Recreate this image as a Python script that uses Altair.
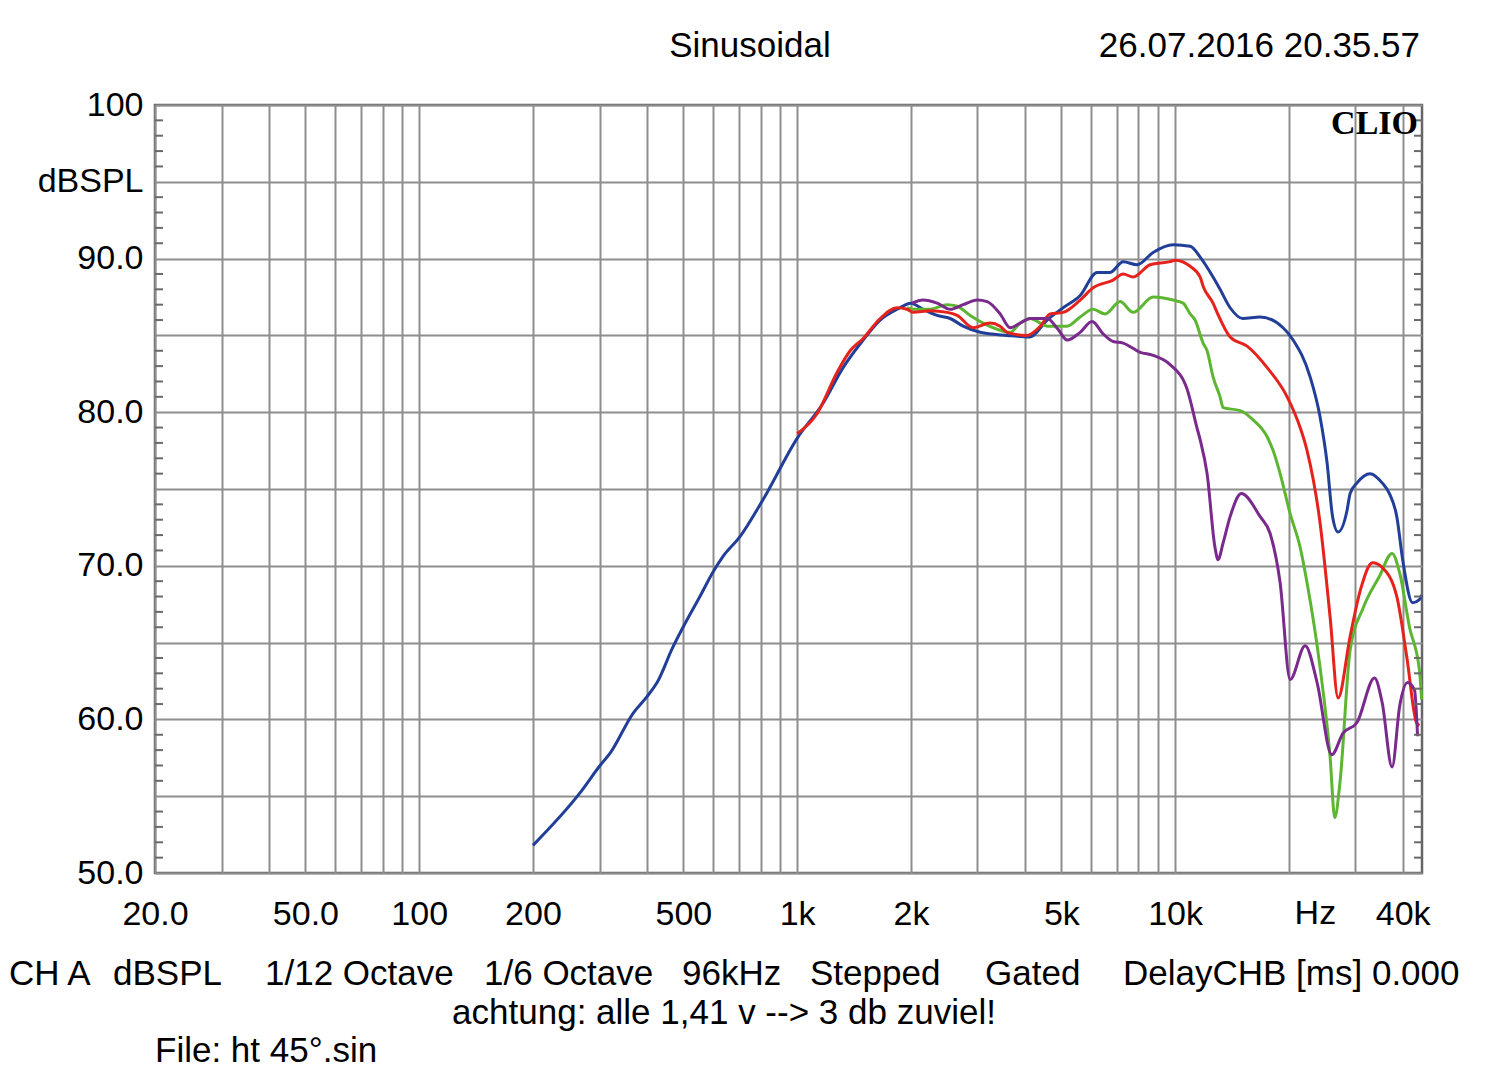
import altair as alt
import pandas as pd

# ---------------- data ----------------
blue_f = [200, 266, 301, 320, 368, 401, 426, 469, 499, 553, 599, 636, 706, 812, 1000, 1172, 1323, 1495, 1658, 1839,
          2000, 2154, 2346, 2540, 2750, 3049, 3594, 4134, 4585, 5054, 5607, 6218, 6730, 7285, 7935, 8746, 9878, 10960,
          11650, 12600, 13150, 13980, 15100, 16790, 19300, 20520, 22760, 24180, 25240, 26100, 26990, 28500, 29040,
          30290, 32800, 35300, 36900, 38600, 40000, 42500, 44300, 44900]
blue_db = [51.8, 55.2, 57.0, 57.8, 60.4, 61.5, 62.4, 64.7, 66.0, 68.0, 69.6, 70.6, 71.9, 74.3, 78.3, 80.6, 82.9, 84.7,
           86.0, 86.7, 87.1, 86.7, 86.3, 86.1, 85.6, 85.2, 85.0, 84.9, 86.0, 86.8, 87.6, 89.1, 89.1, 89.8, 89.6, 90.4,
           90.9, 90.8, 90.1, 88.8, 88.0, 86.8, 86.1, 86.2, 85.5, 84.7, 82.3, 79.7, 76.7, 73.2, 72.2, 73.6, 74.7, 75.4,
           76.0, 75.4, 74.7, 73.2, 70.4, 67.6, 67.8, 68.1]

red_f = [1000, 1129, 1276, 1381, 1495, 1658, 1839, 1954, 2027, 2248, 2494, 2651, 2922, 3241, 3444, 3594, 4050, 4400,
         4670, 5054, 5607, 6068, 6855, 7285, 7743, 8588, 9700, 10000, 10960, 11650, 11860, 12600, 12910, 13980, 15500,
         17520, 19790, 21420, 22340, 24180, 25700, 26990, 29040, 30900, 33300, 35300, 38600, 41000, 43500, 44300]
red_db = [78.6, 79.9, 82.6, 84.0, 84.8, 86.1, 86.8, 86.7, 86.5, 86.6, 86.5, 86.3, 85.5, 85.8, 85.6, 85.2, 85.0, 85.6,
          86.4, 86.5, 87.3, 88.1, 88.6, 89.0, 88.8, 89.6, 89.8, 89.9, 89.5, 88.8, 88.2, 87.1, 86.5, 84.9, 84.3, 82.9,
          81.0, 79.0, 77.5, 72.8, 66.7, 61.4, 65.4, 68.4, 70.2, 69.9, 68.0, 64.1, 59.8, 59.6]

green_f = [1954, 2027, 2248, 2494, 2651, 2870, 3105, 3382, 3660, 3890, 4134, 4585, 5179, 5607, 6068, 6529, 7153, 7743,
           8746, 9878, 10500, 10960, 11290, 11860, 12150, 12600, 13150, 13400, 14860, 16080, 17520, 18170, 18960,
           20150, 21420, 22340, 24180, 25700, 26450, 27300, 29040, 31500, 34700, 37500, 39300, 41700, 44300, 44900]
green_db = [86.8, 86.7, 86.7, 87.0, 86.9, 86.3, 85.8, 85.4, 85.2, 85.8, 86.1, 85.6, 85.6, 86.2, 86.7, 86.4, 87.2, 86.5,
            87.5, 87.3, 87.1, 86.4, 86.0, 84.5, 84.0, 82.3, 81.0, 80.3, 80.1, 79.5, 78.4, 77.5, 76.0, 73.4, 71.2, 68.9,
            63.4, 57.6, 53.6, 55.9, 64.5, 67.3, 69.3, 70.8, 69.5, 66.0, 63.2, 61.3]

purple_f = [2015, 2154, 2346, 2540, 2750, 2994, 3182, 3444, 3660, 3890, 4134, 4585, 4900, 5179, 5607, 6031, 6450, 6855,
            7285, 8081, 8746, 9700, 10760, 11420, 11650, 12150, 12750, 12990, 13400, 13980, 14970, 16790, 17840, 18960,
            20150, 22080, 23750, 25970, 27820, 30290, 33700, 35300, 37500, 39300, 41200, 43000, 43800]
purple_db = [87.1, 87.3, 87.1, 86.7, 87.0, 87.3, 87.2, 86.4, 85.5, 85.8, 86.1, 86.1, 85.4, 84.7, 85.2, 85.9, 85.1, 84.6,
             84.5, 83.9, 83.7, 83.1, 81.5, 79.0, 78.2, 76.0, 71.2, 70.4, 71.5, 73.2, 74.7, 73.2, 72.1, 68.9, 62.6, 64.8,
             62.4, 57.7, 59.1, 59.8, 62.7, 61.1, 56.9, 60.9, 62.4, 61.9, 58.9]

x_grid = [20, 30, 40, 50, 60, 70, 80, 90, 100, 200, 300, 400, 500, 600, 700, 800, 900, 1000,
          2000, 3000, 4000, 5000, 6000, 7000, 8000, 9000, 10000, 20000, 30000, 40000]
x_label_vals = [20, 50, 100, 200, 500, 1000, 2000, 5000, 10000, 40000]
x_label_txt = ["20.0", "50.0", "100", "200", "500", "1k", "2k", "5k", "10k", "40k"]
hz_pos = [23500]

y_grid = [50, 55, 60, 65, 70, 75, 80, 85, 90, 95, 100]
y_label_vals = [100, 95, 90, 80, 70, 60, 50]
y_label_txt = ["100", "dBSPL", "90.0", "80.0", "70.0", "60.0", "50.0"]
y_minor = [v for v in range(51, 100) if v % 5 != 0]

title_txt = "Sinusoidal"
date_txt = "26.07.2016 20.35.57"
brand_txt = "CLIO"
footer_items = ["CH A", "dBSPL", "1/12 Octave", "1/6 Octave", "96kHz", "Stepped", "Gated", "DelayCHB [ms] 0.000"]
note_txt = "achtung: alle 1,41 v --> 3 db zuviel!"
file_txt = "File: ht 45°.sin"

# ---------------- chart ----------------
W, H = 1267, 768
FONT = "Liberation Sans"


def label_expr(vals, txts):
    parts = [f"datum.value == {v} ? '{t}'" for v, t in zip(vals, txts)]
    return " : ".join(parts) + " : ''"


xscale = alt.Scale(type="log", domain=[20, 45000], nice=False)
yscale = alt.Scale(domain=[50, 100], nice=False, zero=False)

xaxis = alt.Axis(values=x_grid, labelExpr=label_expr(x_label_vals, x_label_txt), title=None,
                 grid=True, gridColor="#8e8e8e", gridWidth=2, ticks=False, domain=False,
                 labelFont=FONT, labelFontSize=34, labelColor="black", labelPadding=24,
                 labelOverlap=False, labelFlush=False, labelBound=False)
yaxis = alt.Axis(values=y_grid, labelExpr=label_expr(y_label_vals, y_label_txt), title=None,
                 grid=True, gridColor="#8e8e8e", gridWidth=2, ticks=False, domain=False,
                 labelFont=FONT, labelFontSize=34, labelColor="black", labelPadding=12,
                 labelOverlap=False, labelFlush=False, labelBound=False)

series = [("blue", blue_f, blue_db, "#213f98"),
          ("green", green_f, green_db, "#5db632"),
          ("red", red_f, red_db, "#e5221c"),
          ("purple", purple_f, purple_db, "#7a2a8c")]

layers = []
for name, fs, dbs, col in series:
    df = pd.DataFrame({"f": fs, "db": dbs})
    layers.append(alt.Chart(df).mark_line(color=col, strokeWidth=3, interpolate="monotone")
                  .encode(x=alt.X("f:Q", scale=xscale, axis=xaxis),
                          y=alt.Y("db:Q", scale=yscale, axis=yaxis)))

minor_df = pd.DataFrame({"db": y_minor})
for x0, x1 in [(0, 8), (W - 8, W)]:
    layers.append(alt.Chart(minor_df).mark_rule(color="#6a6a6a", strokeWidth=2)
                  .encode(y=alt.Y("db:Q", scale=yscale, axis=yaxis), x=alt.value(x0), x2=alt.value(x1)))

one = pd.DataFrame({"k": [0]})


def txt(t, x, y, align="left", size=35, font=FONT, weight="normal", baseline="alphabetic"):
    return (alt.Chart(one).mark_text(text=t, align=align, baseline=baseline, font=font, fontSize=size,
                                     fontWeight=weight, color="black")
            .encode(x=alt.value(x), y=alt.value(y)))


# "Hz" unit label on the frequency axis
layers.append(alt.Chart(pd.DataFrame({"f": hz_pos})).mark_text(
    text="Hz", align="center", baseline="top", font=FONT, fontSize=34, color="black")
    .encode(x=alt.X("f:Q", scale=xscale, axis=xaxis), y=alt.value(H + 24)))

X0, Y0 = 155, 105  # page position of the plot origin
layers.append(txt(title_txt, 750 - X0, 57 - Y0, align="center"))
layers.append(txt(date_txt, 1420 - X0, 57 - Y0, align="right"))
layers.append(txt(brand_txt, 1418 - X0, 134 - Y0, align="right", size=34, font="Liberation Serif", weight="bold"))

footer_x = [9, 113, 265, 484, 682, 810, 985, 1123]
for t, px in zip(footer_items, footer_x):
    layers.append(txt(t, px - X0, 985 - Y0))
layers.append(txt(note_txt, 724 - X0, 1024 - Y0, align="center"))
layers.append(txt(file_txt, 155 - X0, 1062 - Y0))

chart = (alt.layer(*layers)
         .resolve_axis(x="shared", y="shared")
         .properties(width=W, height=H,
                     autosize=alt.AutoSizeParams(type="none"),
                     padding={"left": 147, "top": 97, "right": 50, "bottom": 200},
                     background="white")
         .configure_view(stroke="#666666", strokeWidth=2.5))

chart.save("out.html", embed_options={"renderer": "svg", "actions": False})
